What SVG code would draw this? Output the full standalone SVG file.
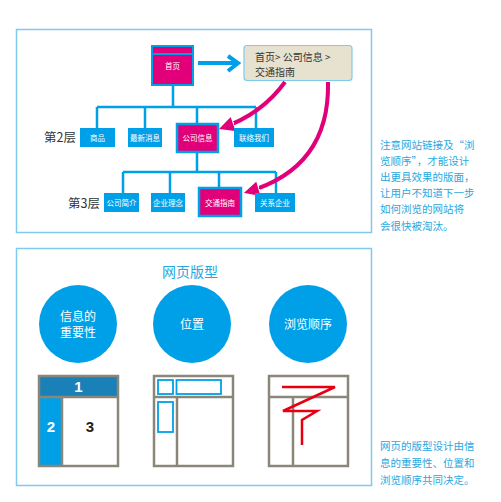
<svg xmlns="http://www.w3.org/2000/svg" width="501" height="502" viewBox="0 0 501 502">
<defs>
<style>
.frame{fill:#fff;stroke:#7fcbef;stroke-width:1.5}
.bnode{fill:#00a0e9}
.mnode{fill:#e2007a;stroke:#00a0e9;stroke-width:2.5}
.ntext{font-family:"Noto Sans CJK SC","Noto Sans",sans-serif;font-size:7.5px;fill:#fff;text-anchor:middle}
.lvl{font-family:"Noto Sans CJK SC","Noto Sans",sans-serif;font-size:12.5px;fill:#333;text-anchor:end}
.tree{fill:none;stroke:#00a0e9;stroke-width:2.5}
.curve{fill:none;stroke:#e2007a;stroke-width:4}
.note{font-family:"Noto Sans CJK SC","Noto Sans",sans-serif;font-size:10.5px;fill:#29a8e0}
.ctext{font-family:"Noto Sans CJK SC","Noto Sans",sans-serif;font-size:12px;fill:#fff;text-anchor:middle}
.lay{fill:none;stroke:#8a8679;stroke-width:2.5}
.num{font-family:"Liberation Sans",Arial,sans-serif;font-size:15px;font-weight:bold;text-anchor:middle}
</style>
<marker id="mh" viewBox="0 0 10 10" refX="7" refY="5" markerWidth="4.6" markerHeight="4.6" orient="auto" markerUnits="strokeWidth">
<path d="M0,0 L10,5 L0,10 z" fill="#e2007a" stroke="#fff" stroke-width="1.2"/>
</marker>
</defs>
<rect width="501" height="502" fill="#fff"/>

<rect class="frame" x="16.5" y="29.5" width="355" height="203"/>
<rect class="frame" x="16.5" y="248.5" width="355" height="237"/>

<g id="connectors">
<path class="tree" d="M173,86 V107 M97,107 H256 M97,107 V129 M145,107 V129 M197,107 V124 M256,107 V129"/>
<path class="tree" d="M197,152 V172 M123,172 H276 M123,172 V194 M170,172 V194 M219,172 V188 M276,172 V194"/>
<path d="M198,63 H235 M228,56 L238,63 L228,71" fill="none" stroke="#00a0e9" stroke-width="4"/>
<path class="curve" d="M285,82 Q262,114 222,128" marker-end="url(#mh)"/>
<path class="curve" d="M328,82 Q330,168 247,192" marker-end="url(#mh)"/>
</g>

<g id="home">
<rect x="152" y="46" width="41" height="39" fill="#e2007a" stroke="#00a0e9" stroke-width="2"/>
<line x1="152" y1="54" x2="193" y2="54" stroke="#00a0e9" stroke-width="2"/>
<text class="ntext" x="172.5" y="69">首页</text>
</g>

<g id="breadcrumb">
<rect x="244" y="45.5" width="108" height="35" rx="3" fill="#e7e2cf" stroke="#7fcbef" stroke-width="1.2"/>
<text x="255" y="61" font-family="'Noto Sans CJK SC','Noto Sans',sans-serif" font-size="10" fill="#333">首页&gt; 公司信息 &gt;</text>
<text x="255" y="76" font-family="'Noto Sans CJK SC','Noto Sans',sans-serif" font-size="10" fill="#333">交通指南</text>
</g>

<text class="lvl" x="76" y="142">第2层</text>
<text class="lvl" x="100" y="208">第3层</text>

<g id="n-shangpin"><rect class="bnode" x="80" y="128" width="35" height="19"/><text class="ntext" x="97.5" y="140.5">商品</text></g>
<g id="n-zuixin"><rect class="bnode" x="128" y="128" width="34" height="19"/><text class="ntext" x="145" y="140.5">最新消息</text></g>
<g id="n-gongsi"><rect class="mnode" x="177" y="124" width="41" height="28"/><text class="ntext" x="197.5" y="140.5">公司信息</text></g>
<g id="n-lianluo"><rect class="bnode" x="234" y="128" width="40" height="19"/><text class="ntext" x="254" y="140.5">联络我们</text></g>

<g id="n-jianjie"><rect class="bnode" x="104" y="193" width="35" height="19"/><text class="ntext" x="121.5" y="205.5">公司简介</text></g>
<g id="n-linian"><rect class="bnode" x="151" y="193" width="34" height="19"/><text class="ntext" x="168" y="205.5">企业理念</text></g>
<g id="n-jiaotong"><rect class="mnode" x="199" y="188" width="42" height="28"/><text class="ntext" x="220" y="205.5">交通指南</text></g>
<g id="n-guanxi"><rect class="bnode" x="255" y="193" width="40" height="19"/><text class="ntext" x="275" y="205.5">关系企业</text></g>

<g id="note1">
<text class="note" x="380" y="149">注意网站链接及“浏</text>
<text class="note" x="380" y="165">览顺序”，才能设计</text>
<text class="note" x="380" y="181">出更具效果的版面，</text>
<text class="note" x="380" y="197">让用户不知道下一步</text>
<text class="note" x="380" y="213">如何浏览的网站将</text>
<text class="note" x="380" y="230">会很快被淘汰。</text>
</g>

<text x="190" y="277" font-family="'Noto Sans CJK SC','Noto Sans',sans-serif" font-size="14" fill="#29a8e0" text-anchor="middle">网页版型</text>

<g id="c1"><circle cx="78" cy="324" r="39" fill="#00a0e9"/><text class="ctext" x="78" y="321">信息的</text><text class="ctext" x="78" y="337">重要性</text></g>
<g id="c2"><circle cx="192" cy="324" r="39" fill="#00a0e9"/><text class="ctext" x="192" y="329">位置</text></g>
<g id="c3"><circle cx="308" cy="324" r="39" fill="#00a0e9"/><text class="ctext" x="308" y="329">浏览顺序</text></g>

<g id="layout1">
<rect x="39" y="376" width="79" height="21" fill="#1a80b8"/>
<rect x="39" y="397" width="23" height="69" fill="#00a0e9"/>
<rect class="lay" x="39" y="376" width="79" height="90"/>
<path class="lay" d="M39,397 H118 M62,397 V466"/>
<text class="num" x="78.5" y="392" fill="#fff">1</text>
<text class="num" x="51" y="432" fill="#fff">2</text>
<text class="num" x="90" y="432" fill="#222">3</text>
</g>

<g id="layout2">
<rect class="lay" x="154" y="376" width="79" height="90"/>
<path class="lay" d="M154,397 H233 M177,397 V466"/>
<g fill="none" stroke="#00a0e9" stroke-width="1.8">
<rect x="158" y="380" width="15" height="14"/>
<rect x="176.5" y="380" width="44.5" height="14"/>
<rect x="158" y="402" width="15" height="30"/>
</g>
</g>

<g id="layout3">
<rect class="lay" x="269" y="376" width="79" height="90"/>
<path class="lay" d="M269,397 H348 M293,397 V466"/>
<path d="M282,387 H335 L283,411 H317 L302,420 V445" fill="none" stroke="#e60012" stroke-width="2.5"/>
</g>

<g id="note2">
<text class="note" x="380" y="450">网页的版型设计由信</text>
<text class="note" x="380" y="467">息的重要性、位置和</text>
<text class="note" x="380" y="484">浏览顺序共同决定。</text>
</g>
</svg>
